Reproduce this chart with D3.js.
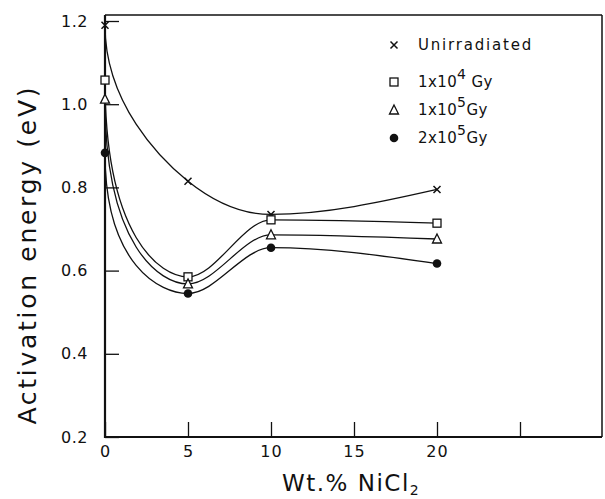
<!DOCTYPE html>
<html>
<head>
<meta charset="utf-8">
<script src="https://cdn.jsdelivr.net/npm/d3@7"></script>
<style>
  html, body { margin: 0; padding: 0; background: #fff; }
  svg { display: block; }
  text { font-family: "DejaVu Sans", sans-serif; fill: #111; }
</style>
</head>
<body>
<svg id="chart" width="605" height="499"></svg>
<script>
// ---- data ----
const wtPercent = [0, 5, 10, 20];
const unirradiated = [1.19, 0.815, 0.735, 0.795];
const dose1e4 = [1.058, 0.585, 0.722, 0.714];
const dose1e5 = [1.012, 0.568, 0.686, 0.676];
const dose2e5 = [0.883, 0.545, 0.655, 0.617];
const seriesNames = ["Unirradiated", "1x10|4| Gy", "1x10|5|Gy", "2x10|5|Gy"];
const yTickValues = [0.2, 0.4, 0.6, 0.8, 1.0, 1.2];
const yTickLabels = ["0.2", "0.4", "0.6", "0.8", "1.0", "1.2"];
const xTickValues = [0, 5, 10, 15, 20, 25];
const xTickLabels = ["0", "5", "10", "15", "20", ""];

// ---- styles ----
const markers = ["cross", "square", "triangle", "dot"];
const startSteepness = [0.5, 0.8, 0.8, 0.8];

const svg = d3.select("#chart");
const x = d3.scaleLinear().domain([0, 30]).range([105, 603]);
const y = d3.scaleLinear().domain([0.2, 1.2]).range([437, 21]);

// custom curve: vertical start tangent, monotone tangents elsewhere
function steepCurve(f) {
  return function(context) {
    let pts = [];
    return {
      areaStart() {}, areaEnd() {},
      lineStart() { pts = []; },
      point(px, py) { pts.push([+px, +py]); },
      lineEnd() {
        const n = pts.length;
        if (!n) return;
        const s = [];
        for (let i = 0; i < n - 1; i++) s.push((pts[i+1][1] - pts[i][1]) / (pts[i+1][0] - pts[i][0]));
        const m = new Array(n).fill(0);
        for (let i = 1; i < n - 1; i++) {
          const h0 = pts[i][0] - pts[i-1][0], h1 = pts[i+1][0] - pts[i][0];
          const s0 = s[i-1], s1 = s[i];
          const p = (s0 * h1 + s1 * h0) / (h0 + h1);
          m[i] = (Math.sign(s0) + Math.sign(s1)) * Math.min(Math.abs(s0), Math.abs(s1), 0.5 * Math.abs(p)) || 0;
        }
        if (n > 1) {
          m[n-1] = (3 * s[n-2] - m[n-2]) / 2;
        }
        context.moveTo(pts[0][0], pts[0][1]);
        for (let i = 0; i < n - 1; i++) {
          const [x0, y0] = pts[i], [x1, y1] = pts[i+1];
          const dx = (x1 - x0) / 3;
          let c1x, c1y;
          if (i === 0) { c1x = x0; c1y = y0 + f * (y1 - y0); }
          else { c1x = x0 + dx; c1y = y0 + dx * m[i]; }
          context.bezierCurveTo(c1x, c1y, x1 - dx, y1 - dx * m[i+1], x1, y1);
        }
      }
    };
  };
}

const allSeries = [unirradiated, dose1e4, dose1e5, dose2e5];

// axes (inward ticks)
const yAxis = d3.axisLeft(y).tickValues(yTickValues)
  .tickFormat((d, i) => yTickLabels[i]).tickSizeInner(-14).tickSizeOuter(0).tickPadding(17);
const gy = svg.append("g").attr("transform", `translate(${x(0)},0)`).call(yAxis);
gy.select(".domain").remove();
gy.selectAll(".tick line").attr("stroke", "#111").attr("stroke-width", 1.3);
gy.selectAll(".tick text").style("font-size", "16px").style("letter-spacing", "0.5px").attr("fill", "#111");

const xAxis = d3.axisBottom(x).tickValues(xTickValues)
  .tickFormat((d, i) => xTickLabels[i]).tickSizeInner(-15).tickSizeOuter(0).tickPadding(9);
const gx = svg.append("g").attr("transform", `translate(0,${y(0.2)})`).call(xAxis);
gx.select(".domain").remove();
gx.selectAll(".tick line").attr("stroke", "#111").attr("stroke-width", 1.3);
gx.selectAll(".tick text").style("font-size", "16px").style("letter-spacing", "1px").attr("fill", "#111");

// frame
const fLeft = x(0), fRight = 602, fTop = 15, fBottom = y(0.2);
svg.append("line").attr("x1", fLeft).attr("x2", fRight).attr("y1", fTop).attr("y2", fTop).attr("stroke", "#111").attr("stroke-width", 1.5);
svg.append("line").attr("x1", fRight).attr("x2", fRight).attr("y1", fTop).attr("y2", fBottom).attr("stroke", "#111").attr("stroke-width", 1.5);
svg.append("line").attr("x1", fLeft).attr("x2", fLeft).attr("y1", fTop).attr("y2", fBottom + 1).attr("stroke", "#111").attr("stroke-width", 2.2);
svg.append("line").attr("x1", fLeft - 1).attr("x2", fRight).attr("y1", fBottom).attr("y2", fBottom).attr("stroke", "#111").attr("stroke-width", 2.2);

// curves
allSeries.forEach((vals, si) => {
  const line = d3.line().x((d, i) => x(wtPercent[i])).y(d => y(d)).curve(steepCurve(startSteepness[si]));
  svg.append("path").datum(vals).attr("d", line).attr("fill", "none").attr("stroke", "#111").attr("stroke-width", 1.3);
});

function drawMarker(g, type, cx, cy) {
  if (type === "cross") {
    const s = 3.5;
    g.append("path").attr("d", `M${cx-s},${cy-s}L${cx+s},${cy+s}M${cx-s},${cy+s}L${cx+s},${cy-s}`)
      .attr("stroke", "#111").attr("stroke-width", 1.5).attr("fill", "none");
  } else if (type === "square") {
    g.append("rect").attr("x", cx - 4).attr("y", cy - 4).attr("width", 8).attr("height", 8)
      .attr("fill", "#fff").attr("stroke", "#111").attr("stroke-width", 1.3);
  } else if (type === "triangle") {
    g.append("path").attr("d", `M${cx},${cy-5}L${cx+4.5},${cy+4}L${cx-4.5},${cy+4}Z`)
      .attr("fill", "#fff").attr("stroke", "#111").attr("stroke-width", 1.3);
  } else {
    g.append("circle").attr("cx", cx).attr("cy", cy).attr("r", 4.3).attr("fill", "#111");
  }
}

const gm = svg.append("g");
allSeries.forEach((vals, si) => {
  vals.forEach((v, i) => drawMarker(gm, markers[si], x(wtPercent[i]), y(v)));
});

// legend
const legendRows = [45, 82, 110, 138];
const lg = svg.append("g");
seriesNames.forEach((name, i) => {
  drawMarker(lg, markers[i], 394, legendRows[i]);
  const parts = name.split("|");
  const t = lg.append("text").attr("x", 418).attr("y", legendRows[i] + 5)
    .style("font-size", "15px").style("letter-spacing", i === 0 ? "1.8px" : "0.4px");
  t.append("tspan").text(parts[0]);
  if (parts.length > 1) {
    t.append("tspan").attr("dy", -8).style("font-size", "14px").text(parts[1]);
    t.append("tspan").attr("dy", 8).text(parts[2]);
  }
});

// axis labels
svg.append("text")
  .attr("transform", `translate(36,256) rotate(-90)`)
  .attr("text-anchor", "middle")
  .style("font-size", "25px")
  .attr("textLength", 337).attr("lengthAdjust", "spacing")
  .text("Activation energy (eV)");

const xl = svg.append("text").attr("x", 282).attr("y", 491).style("font-size", "23px").style("letter-spacing", "1.5px");
xl.append("tspan").text("Wt.% NiCl");
xl.append("tspan").attr("dy", 4).style("font-size", "14px").text("2");
</script>
</body>
</html>
